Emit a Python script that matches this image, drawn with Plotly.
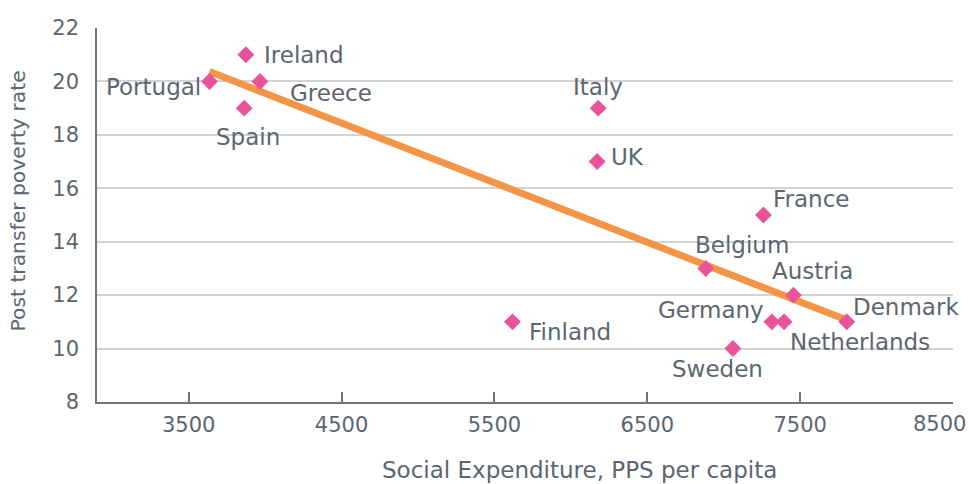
import plotly.graph_objects as go

countries = ["Portugal", "Ireland", "Greece", "Spain", "Italy", "UK", "France",
             "Belgium", "Austria", "Denmark", "Germany", "Netherlands", "Sweden", "Finland"]
expenditure = [3636, 3874, 3966, 3863, 6179, 6172, 7260, 6883, 7456, 7805, 7315, 7395, 7060, 5618]
poverty = [20, 21, 20, 19, 19, 17, 15, 13, 12, 11, 11, 11, 10, 11]

trend_x = [3636, 7805]
trend_y = [20.37, 11.07]

x_ticks = [3500, 4500, 5500, 6500, 7500, 8500]
y_ticks = [8, 10, 12, 14, 16, 18, 20, 22]

x_title = "Social Expenditure, PPS per capita"
y_title = "Post transfer poverty rate"

TEXT = "#5b6670"
AXIS = "#6d747a"
GRID = "#d2d3d4"
PINK = "#e9539a"
ORANGE = "#f39447"
FONT = "DejaVu Sans"

W, H = 969, 484
ML, MR, MT, MB = 97, 16, 28, 82

# label placement: (xanchor, xshift, yshift)
label_pos = {
    "Portugal": ("right", -7, -6),
    "Ireland": ("left", 16, 0),
    "Greece": ("left", 28, -12),
    "Spain": ("center", 4, -29),
    "Italy": ("center", 0, 21),
    "UK": ("left", 12, 5),
    "France": ("left", 8, 16),
    "Belgium": ("center", 36, 23),
    "Austria": ("left", -23, 24),
    "Denmark": ("left", 4, 15),
    "Germany": ("right", -6, 12),
    "Netherlands": ("left", 4, -20),
    "Sweden": ("center", -15, -20),
    "Finland": ("left", 15, -10),
}

fig = go.Figure()
fig.add_trace(go.Scatter(
    x=trend_x, y=trend_y, mode="lines",
    line=dict(color=ORANGE, width=7), hoverinfo="skip", showlegend=False))
fig.add_trace(go.Scatter(
    x=expenditure, y=poverty, mode="markers",
    marker=dict(symbol="diamond", size=13, color=PINK, line=dict(width=0)),
    text=countries, showlegend=False))

for c, xv, yv in zip(countries, expenditure, poverty):
    anchor, xs, ys = label_pos[c]
    fig.add_annotation(x=xv, y=yv, text=c, showarrow=False,
                       xanchor=anchor, yanchor="middle", xshift=xs, yshift=ys,
                       font=dict(family=FONT, size=23, color=TEXT))

# last x tick label, nudged left to stay inside the canvas
fig.add_annotation(x=x_ticks[-1], y=0, xref="x", yref="paper", text=str(x_ticks[-1]),
                   showarrow=False, xanchor="center", yanchor="middle", xshift=-14, yshift=-22,
                   font=dict(family=FONT, size=21, color=TEXT))

# axis titles (offset from plot centre as in the reference)
pw = W - ML - MR
ph = H - MT - MB
fig.add_annotation(x=(579 - ML) / pw, y=-(470 - MT - ph) / ph, xref="paper", yref="paper",
                   text=x_title, showarrow=False, xanchor="center", yanchor="middle",
                   font=dict(family=FONT, size=23, color=TEXT))
fig.add_annotation(x=(17.5 - ML) / pw, y=1 - (201 - MT) / ph, xref="paper", yref="paper",
                   text=y_title, showarrow=False, textangle=-90,
                   xanchor="center", yanchor="middle",
                   font=dict(family=FONT, size=20.3, color=TEXT))

fig.update_layout(
    width=W, height=H,
    margin=dict(l=ML, r=MR, t=MT, b=MB),
    plot_bgcolor="white", paper_bgcolor="white",
    font=dict(family=FONT, color=TEXT),
    xaxis=dict(
        range=[2900, 8500], tickvals=x_ticks,
        ticktext=[str(v) for v in x_ticks[:-1]] + [""],
        showgrid=False, zeroline=False, automargin=False,
        showline=True, linecolor=AXIS, linewidth=1.5,
        ticks="inside", ticklen=10, tickcolor=AXIS, tickwidth=1.5,
        ticklabelstandoff=3,
        tickfont=dict(family=FONT, size=21, color=TEXT),
    ),
    yaxis=dict(
        range=[8, 22], tickvals=y_ticks, automargin=False,
        showgrid=True, gridcolor=GRID, gridwidth=1.5, zeroline=False,
        showline=True, linecolor=AXIS, linewidth=1.5,
        ticks="", ticklabelstandoff=12,
        tickfont=dict(family=FONT, size=21, color=TEXT),
    ),
)

fig.write_html("out.html", config={"displayModeBar": False},
               post_script="document.body.style.margin='0';document.body.style.overflow='hidden';")
